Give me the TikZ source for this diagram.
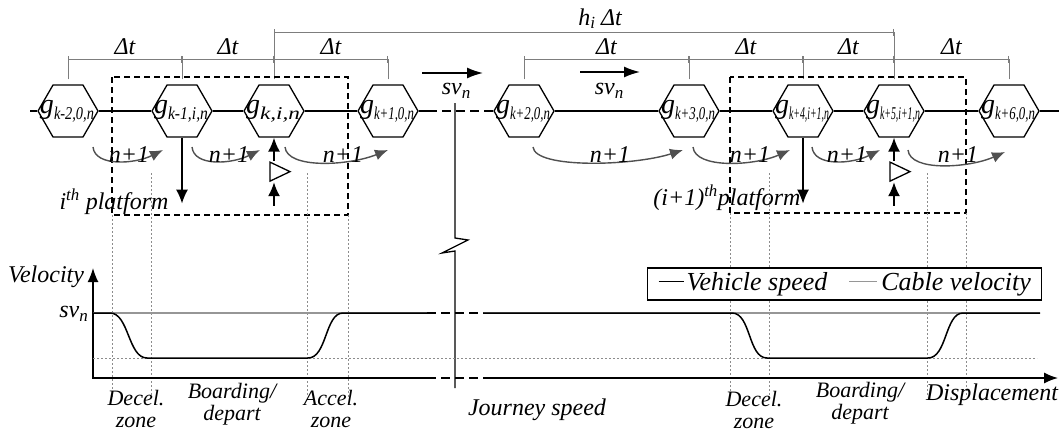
\documentclass[tikz,border=0pt]{standalone}
\usepackage{fontspec}
\setmainfont{Liberation Serif}
\usepackage{graphicx}
\usetikzlibrary{arrows.meta,positioning,shapes.geometric,calc}
\definecolor{spangray}{RGB}{125,125,125}
\definecolor{hopgray}{RGB}{80,80,80}
\definecolor{guidegray}{RGB}{140,140,140}
\definecolor{cablegray}{RGB}{150,150,150}
\newcommand{\gk}[1]{\textit{g}\raisebox{-0.45ex}{\resizebox{40pt}{\height}{\fontsize{18}{18}\selectfont\itshape #1}}}
\newcommand{\svn}{\textit{sv}\raisebox{-0.35ex}{\fontsize{17}{17}\selectfont\itshape n}}

\begin{document}
\begin{tikzpicture}[
    x=1pt, y=-1pt,
    hexa/.style={regular polygon, regular polygon sides=6, draw, line width=1.3pt, fill=white, minimum size=60pt, inner sep=0pt},
    txt/.style={font=\fontsize{24}{20}\selectfont\itshape, inner sep=0pt, align=center},
    zonelab/.style={font=\fontsize{22}{22}\selectfont\itshape, inner sep=0pt, align=center},
    cable/.style={line width=1.5pt},
    gapline/.style={line width=1.5pt, dash pattern=on 9pt off 5pt},
    span/.style={draw=spangray, line width=1pt, {Bar[width=7pt]}-{Bar[width=7pt]}},
    tick/.style={draw=spangray, line width=1pt},
    hop/.style={draw=hopgray, line width=1.4pt, -{Latex[length=13pt,width=11pt]}},
    drop/.style={line width=1.7pt, -{Latex[length=14pt,width=12pt]}},
    move/.style={line width=1.6pt, -{Latex[length=16pt,width=11pt]}},
    gate/.style={isosceles triangle, isosceles triangle stretches, draw, line width=1.3pt, fill=white, minimum width=19pt, minimum height=20pt, inner sep=0pt},
    zonebox/.style={draw, line width=1.3pt, dash pattern=on 6pt off 4pt},
    guide/.style={draw=guidegray, line width=1pt, dash pattern=on 2pt off 2pt},
    axis/.style={line width=1.5pt},
    vehicle/.style={line width=1.5pt},
    cablev/.style={draw=cablegray, line width=1.8pt}
]
    \useasboundingbox (0,0) rectangle (1059,434);

    % gondola nodes on the cable
    \foreach \name/\xx/\gsub in {g1/68/{k-2,0,n}, g2/182/{k-1,i,n}, g3/274/{k,i,n}, g4/388/{k+1,0,n}, g5/524/{k+2,0,n}, g6/689/{k+3,0,n}, g7/803/{k+4,i+1,n}, g8/894/{k+5,i+1,n}, g9/1009/{k+6,0,n}}
        \node[hexa, label={[inner sep=0pt, xshift=-1pt, font=\fontsize{28}{28}\selectfont]center:\gk{\gsub}}] (\name) at (\xx,111) {};

    \coordinate (cableL) at (30,111);
    \coordinate (cableR) at (1059,111);
    \coordinate (gapL) at (428,111);
    \coordinate (gapR) at (490,111);
    \draw[cable] (cableL) -- (g1);
    \foreach \a/\b in {g1/g2, g2/g3, g3/g4, g5/g6, g6/g7, g7/g8, g8/g9}
        \draw[cable] (\a) -- (\b);
    \draw[cable] (g4) -- (gapL);
    \draw[gapline] (gapL) -- (gapR);
    \draw[cable] (gapR) -- (g5);
    \draw[cable] (g9) -- (cableR);

    % headway brackets
    \foreach \name in {g1,g2,g3,g4,g5,g6,g7,g8,g9} {
        \coordinate (\name-t) at ($(\name.north)+(0,-25)$);
        \draw[tick] ($(\name.north)+(0,-5)$) -- (\name-t);
    }
    \foreach \a/\b in {g1/g2, g2/g3, g3/g4, g5/g6, g6/g7, g7/g8, g8/g9}
        \draw[span] (\a-t) -- (\b-t) node[txt, midway, above=4pt] {Δt};
    \coordinate (g3-h) at ($(g3.north)+(0,-52)$);
    \coordinate (g8-h) at ($(g8.north)+(0,-52)$);
    \draw[tick] (g3-t) -- (g3-h);
    \draw[tick] (g8-t) -- (g8-h);
    \draw[span] (g3-h) -- (g8-h) node[txt, pos=0.526, above=3pt] {h\raisebox{-0.35ex}{\fontsize{17}{17}\selectfont\itshape i} Δt};

    % platform zones
    \draw[zonebox] (112,77) rectangle (348,215);
    \draw[zonebox] (730,77) rectangle (966,213);
    \foreach \xx/\yy in {112/215, 151/173, 307/173, 348/215, 730/213, 769/173, 927/173, 966/213}
        \draw[guide] (\xx,\yy) -- (\xx,397);

    % n+1 hops
    \draw[hop] ($(g1)+(25,36)$) .. controls +(2,20) and +(-28,14) .. ($(g2)+(-19,39)$);
    \draw[hop] ($(g2)+(10,36)$) .. controls +(2,20) and +(-28,14) .. ($(g3)+(-14,39)$);
    \draw[hop] ($(g3)+(11,36)$) .. controls +(2,22) and +(-40,16) .. ($(g4)+(0,39)$);
    \draw[hop] ($(g5)+(9,36)$) .. controls +(2,22) and +(-50,16) .. ($(g6)+(-6,39)$);
    \draw[hop] ($(g6)+(4,36)$) .. controls +(2,22) and +(-36,16) .. ($(g7)+(-13,39)$);
    \draw[hop] ($(g7)+(9,36)$) .. controls +(2,20) and +(-28,14) .. ($(g8)+(-14,39)$);
    \draw[hop] ($(g8)+(14,39)$) .. controls +(2,22) and +(-36,16) .. ($(g9)+(-4,41)$);
    \foreach \name/\xx in {n1/129, n2/229, n3/343, n4/610, n5/750, n6/847, n7/958}
        \node[txt] (\name) at (\xx,155) {n+1};

    % alighting and boarding
    \coordinate (drop1) at ($(g2.south)+(0,66)$);
    \coordinate (drop2) at ($(g7.south)+(0,66)$);
    \draw[drop] (g2.south) -- (drop1);
    \draw[drop] (g7.south) -- (drop2);
    \node[gate] (gt1) at ($(g3.south)+(2,34)$) {};
    \node[gate] (gt2) at ($(g8.south)+(2,34)$) {};
    \coordinate (lift1) at ($(g3.south)+(0,68)$);
    \coordinate (lift2) at ($(g8.south)+(0,68)$);
    \draw[drop] (lift1) -- (lift1 |- gt1.right corner);
    \draw[drop] (lift1 |- gt1.left corner) -- (g3.south);
    \draw[drop] (lift2) -- (lift2 |- gt2.right corner);
    \draw[drop] (lift2 |- gt2.left corner) -- (g8.south);

    \node[txt] (plat1) at (114,202) {i\textsuperscript{th} platform};
    \node[txt] (plat2) at (727,198) {(i+1)\textsuperscript{th}platform};

    % cable speed
    \node[txt] (sv1) at (456,91) {\svn};
    \node[txt] (sv2) at (609,91) {\svn};
    \coordinate (mv1s) at (422,73);
    \coordinate (mv1e) at (483,73);
    \coordinate (mv2s) at (580,72);
    \coordinate (mv2e) at (640,72);
    \draw[move] (mv1s) -- (mv1e);
    \draw[move] (mv2s) -- (mv2e);

    % break line
    \draw[line width=1.3pt] (455,103) -- (455,238) -- (468,240) -- (442,253) -- (455,251) -- (455,388);

    % velocity profile
    \coordinate (origin) at (93,378);
    \coordinate (yTop) at (93,268);
    \coordinate (axL) at (427,378);
    \coordinate (axR) at (483,378);
    \coordinate (xEnd) at (1058,378);
    \draw[axis, {Latex[length=14pt,width=11pt]}-] (yTop) -- (origin) -- (axL);
    \draw[axis, dash pattern=on 9pt off 5pt] (axL) -- (axR);
    \draw[axis, -{Latex[length=14pt,width=11pt]}] (axR) -- (xEnd);

    \draw[guide] (93,358) -- (1037,358);
    \draw[cablev] (93,313) -- (427,313);
    \draw[cablev] (483,313) -- (1040,313);
    \draw[vehicle] (93,313) -- (110,313) .. controls (129,313) and (128,358) .. (147,358) -- (308,358) .. controls (327,358) and (325,313) .. (343,313) -- (427,313);
    \draw[vehicle, dash pattern=on 9pt off 5pt] (427,313) -- (483,313);
    \draw[vehicle] (483,313) -- (732,313) .. controls (751,313) and (748,358) .. (767,358) -- (928,358) .. controls (947,358) and (945,313) .. (963,313) -- (1040,313);

    \node[txt, anchor=east] (svax) at (88,314) {\svn};
    \node[txt] (vel) at (46,277) {Velocity};

    \node[draw, line width=1.3pt, fill=white, anchor=west, minimum width=394pt, minimum height=32pt, inner sep=0pt, font=\fontsize{26}{26}\selectfont\itshape] (legend) at (647,284)
        {\rule[0.3em]{25pt}{1.5pt}\hspace{3pt}Vehicle speed\hspace{22pt}\textcolor{cablegray}{\rule[0.3em]{28pt}{1.8pt}}\hspace{4pt}Cable velocity};

    \node[zonelab] (dec1) at (136,409) {Decel.\\zone};
    \node[zonelab] (brd1) at (232,404) {Boarding/\\depart};
    \node[zonelab] (acc1) at (331,409) {Accel.\\zone};
    \node[txt] (jrn) at (537,410) {Journey speed};
    \node[zonelab] (dec2) at (754,410) {Decel.\\zone};
    \node[zonelab] (brd2) at (860,403) {Boarding/\\depart};
    \node[txt] (disp) at (992,395) {Displacement};
\end{tikzpicture}
\end{document}
